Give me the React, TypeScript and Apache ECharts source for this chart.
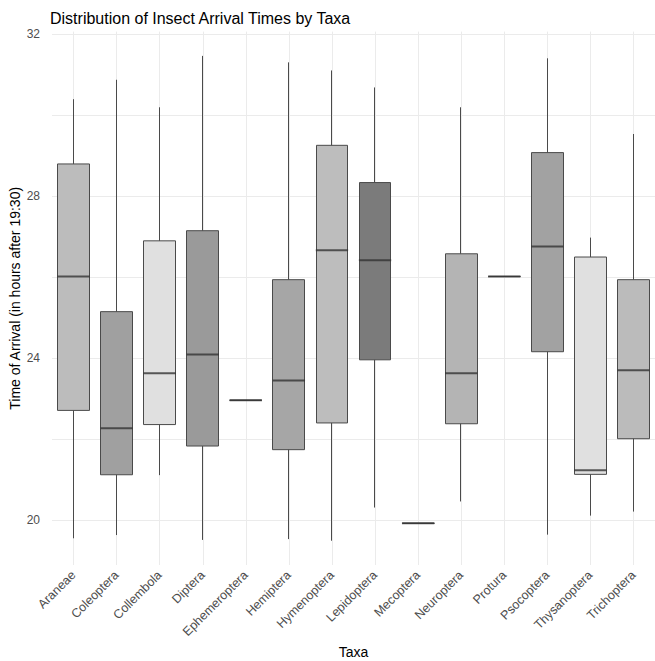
import React, { useEffect, useRef } from "react";
import * as echarts from "echarts";

// ---- data ----
const categories = [
  "Araneae", "Coleoptera", "Collembola", "Diptera", "Ephemeroptera", "Hemiptera", "Hymenoptera",
  "Lepidoptera", "Mecoptera", "Neuroptera", "Protura", "Psocoptera", "Thysanoptera", "Trichoptera",
];
const whiskerLow = [19.55, 19.63, 21.11, 19.51, 22.96, 19.53, 19.49, 20.31, 19.92, 20.46, 26.02, 19.64, 20.11, 20.21];
const q1 = [22.71, 21.12, 22.36, 21.83, 22.96, 21.74, 22.40, 23.96, 19.92, 22.38, 26.02, 24.16, 21.13, 22.01];
const median = [26.02, 22.27, 23.63, 24.09, 22.96, 23.45, 26.67, 26.42, 19.92, 23.63, 26.02, 26.76, 21.23, 23.70];
const q3 = [28.80, 25.15, 26.90, 27.15, 22.96, 25.94, 29.26, 28.34, 19.92, 26.58, 26.02, 29.08, 26.50, 25.94];
const whiskerHigh = [30.40, 30.88, 30.20, 31.47, 22.96, 31.31, 31.11, 30.69, 19.92, 30.20, 26.02, 31.41, 26.98, 29.54];
const yTickLabels = [20, 24, 28, 32];

// ---- styles ----
const fillColors = [
  "#BCBCBC", "#A0A0A0", "#E0E0E0", "#9A9A9A", "#999999", "#A6A6A6", "#BDBDBD",
  "#7B7B7B", "#999999", "#B4B4B4", "#999999", "#A2A2A2", "#E0E0E0", "#BBBBBB",
];
const FONT = "'Liberation Sans', Arial, sans-serif";

export default function App() {
  const ref = useRef<HTMLDivElement>(null);
  useEffect(() => {
    if (!ref.current) return;
    const chart = echarts.init(ref.current, undefined, { renderer: "svg" });
    // box from Q1 to Q3, whiskers (without caps) from low to high
    const boxData = categories.map((c, i) => ({
      name: c,
      value: [q1[i], q3[i], whiskerLow[i], whiskerHigh[i]],
      itemStyle: {
        color: fillColors[i],
        color0: fillColors[i],
        borderColor: "#4A4A4A",
        borderColor0: "#4A4A4A",
        borderColorDoji: "#4A4A4A",
      },
    }));
    chart.setOption({
      animation: false,
      backgroundColor: "#ffffff",
      textStyle: { fontFamily: FONT },
      title: {
        text: "Distribution of Insect Arrival Times by Taxa",
        left: 45,
        top: 5,
        textStyle: { fontFamily: FONT, fontSize: 16, fontWeight: "normal", color: "#000000" },
      },
      grid: {
        left: 52,
        right: 0,
        top: 31.6,
        bottom: 96,
        containLabel: false,
        outerBoundsMode: "none",
      },
      xAxis: [
        {
          type: "category",
          data: categories,
          boundaryGap: true,
          axisLine: { show: false },
          axisTick: { show: false },
          splitLine: { show: false },
          axisLabel: {
            rotate: 45,
            margin: 8,
            fontSize: 12.5,
            color: "#4D4D4D",
            fontFamily: FONT,
            interval: 0,
          },
          name: "Taxa",
          nameLocation: "middle",
          nameGap: 80,
          nameMoveOverlap: false,
          nameTextStyle: { fontSize: 14, color: "#000000", fontFamily: FONT },
        },
        {
          type: "value",
          min: -0.5,
          max: categories.length - 0.5,
          minInterval: 1,
          maxInterval: 1,
          show: true,
          axisLine: { show: false },
          axisTick: { show: false },
          axisLabel: { show: false },
          splitLine: {
            show: true,
            showMinLine: false,
            showMaxLine: false,
            lineStyle: { color: "#EBEBEB", width: 1 },
          },
        },
      ],
      yAxis: {
        type: "value",
        min: 18.89,
        max: 32.07,
        minInterval: 2,
        maxInterval: 2,
        axisLine: { show: false },
        axisTick: { show: false },
        axisLabel: {
          margin: 12,
          fontSize: 12,
          color: "#4D4D4D",
          fontFamily: FONT,
          showMinLabel: false,
          showMaxLabel: false,
          formatter: (v: number) => (yTickLabels.includes(Math.round(v * 100) / 100) ? String(Math.round(v)) : ""),
        },
        splitLine: {
          show: true,
          showMinLine: false,
          showMaxLine: false,
          lineStyle: { color: "#EBEBEB", width: 1 },
        },
        name: "Time of Arrival (in hours after 19:30)",
        nameLocation: "middle",
        nameRotate: 90,
        nameGap: 30,
        nameMoveOverlap: false,
        nameTextStyle: { fontSize: 14, color: "#000000", fontFamily: FONT },
      },
      series: [
        {
          type: "candlestick",
          xAxisIndex: 0,
          data: boxData,
          barWidth: "75%",
          itemStyle: { borderWidth: 1 },
          emphasis: { disabled: true },
          silent: true,
          z: 2,
        },
        {
          type: "scatter",
          xAxisIndex: 0,
          data: median,
          symbol: "rect",
          symbolSize: [32.3, 2],
          itemStyle: { color: "#333333" },
          silent: true,
          z: 3,
        },
      ],
    });
    return () => chart.dispose();
  }, []);
  return (
    <div
      ref={ref}
      style={{ position: "absolute", left: 0, top: 0, width: 655, height: 661 }}
    />
  );
}
